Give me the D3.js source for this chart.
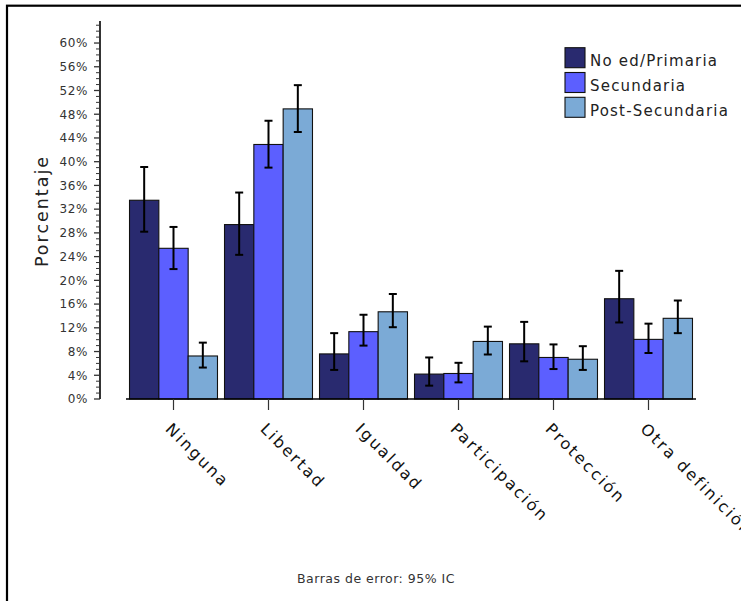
<!DOCTYPE html>
<html>
<head>
<meta charset="utf-8">
<script src="https://cdn.jsdelivr.net/npm/d3@7"></script>
<style>
  body { margin: 0; background: #fff; }
  svg { display: block; font-family: "DejaVu Sans", Verdana, sans-serif; }
</style>
</head>
<body>
<div id="chart"></div>
<script>
// values in percent
const categories = ["Ninguna", "Libertad", "Igualdad", "Participación", "Protección", "Otra definición"];
const seriesNames = ["No ed/Primaria", "Secundaria", "Post-Secundaria"];
const seriesColors = ["#292a6f", "#5c5fff", "#7baad6"];

const noEd   = [33.5, 29.4, 7.6, 4.2, 9.3, 16.9];
const noEdLo = [28.2, 24.3, 4.9, 2.25, 6.35, 12.9];
const noEdHi = [39.1, 34.8, 11.1, 7.0, 13.0, 21.6];

const sec   = [25.4, 42.9, 11.35, 4.3, 7.0, 10.05];
const secLo = [21.9, 39.0, 9.0, 2.8, 5.05, 7.75];
const secHi = [29.0, 46.9, 14.2, 6.1, 9.2, 12.7];

const post   = [7.25, 48.9, 14.7, 9.7, 6.7, 13.6];
const postLo = [5.3, 45.0, 12.1, 7.5, 4.9, 11.1];
const postHi = [9.5, 52.9, 17.7, 12.2, 8.9, 16.6];

const yMajor = d3.range(0, 61, 4);
const yMinor = d3.range(0, 64, 1);

const width = 741, height = 601;

const rows = [];
[[noEd, noEdLo, noEdHi], [sec, secLo, secHi], [post, postLo, postHi]].forEach(([v, lo, hi], s) => {
    categories.forEach((c, i) => {
        rows.push({cat: c, series: seriesNames[s], value: v[i], lo: lo[i], hi: hi[i]});
    });
});

const svg = d3.select("#chart").append("svg")
    .attr("width", width)
    .attr("height", height);

// outer frame, runs off the right and bottom edges
svg.append("rect")
    .attr("x", 7).attr("y", 5.7)
    .attr("width", 900).attr("height", 900)
    .attr("fill", "none")
    .attr("stroke", "#000")
    .attr("stroke-width", 2.2);

const x = d3.scaleBand()
    .domain(categories)
    .range([126, 696])
    .paddingInner(0.074)
    .paddingOuter(0.037);

const xs = d3.scaleBand()
    .domain(seriesNames)
    .range([0, x.bandwidth()]);

const y = d3.scaleLinear()
    .domain([0, 64])
    .range([399, 19.3]);

const color = d3.scaleOrdinal().domain(seriesNames).range(seriesColors);

// bars
svg.append("g")
    .selectAll("rect")
    .data(rows)
    .join("rect")
    .attr("x", d => x(d.cat) + xs(d.series))
    .attr("y", d => y(d.value))
    .attr("width", xs.bandwidth())
    .attr("height", d => y(0) - y(d.value))
    .attr("fill", d => color(d.series))
    .attr("stroke", "#111")
    .attr("stroke-width", 1.1);

// error bars
const err = svg.append("g")
    .attr("stroke", "#000")
    .attr("stroke-width", 2)
    .selectAll("g")
    .data(rows)
    .join("g")
    .attr("transform", d => `translate(${x(d.cat) + xs(d.series) + xs.bandwidth() / 2},0)`);
err.append("line")
    .attr("y1", d => y(d.lo)).attr("y2", d => y(d.hi));
err.append("line")
    .attr("x1", -4).attr("x2", 4)
    .attr("y1", d => y(d.lo)).attr("y2", d => y(d.lo));
err.append("line")
    .attr("x1", -4).attr("x2", 4)
    .attr("y1", d => y(d.hi)).attr("y2", d => y(d.hi));

// y axis
const yAxis = svg.append("g").attr("transform", "translate(100,0)");
yAxis.append("line")
    .attr("y1", y(63.7)).attr("y2", y(0))
    .attr("stroke", "#000").attr("stroke-width", 1.6);
yAxis.selectAll(".minor")
    .data(yMinor.filter(v => v % 4 !== 0))
    .join("line")
    .attr("class", "minor")
    .attr("x1", -4).attr("x2", 0)
    .attr("y1", d => y(d)).attr("y2", d => y(d))
    .attr("stroke", "#333").attr("stroke-width", 1);
yAxis.selectAll(".major")
    .data(yMajor)
    .join("line")
    .attr("class", "major")
    .attr("x1", -6).attr("x2", 0)
    .attr("y1", d => y(d)).attr("y2", d => y(d))
    .attr("stroke", "#333").attr("stroke-width", 1.3);
yAxis.selectAll("text")
    .data(yMajor)
    .join("text")
    .attr("x", -12)
    .attr("y", d => y(d))
    .attr("dy", "0.36em")
    .attr("text-anchor", "end")
    .attr("fill", "#333")
    .style("font-size", "12px")
    .style("letter-spacing", "0.6px")
    .text(d => d + "%");

svg.append("text")
    .attr("transform", "translate(48,211) rotate(-90)")
    .attr("text-anchor", "middle")
    .attr("fill", "#222")
    .style("font-size", "17.5px")
    .style("letter-spacing", "2px")
    .text("Porcentaje");

// x axis
svg.append("line")
    .attr("x1", 126).attr("x2", 696)
    .attr("y1", y(0)).attr("y2", y(0))
    .attr("stroke", "#000").attr("stroke-width", 1.6);
svg.append("g")
    .selectAll("line")
    .data(categories)
    .join("line")
    .attr("x1", d => x(d) + x.bandwidth() / 2)
    .attr("x2", d => x(d) + x.bandwidth() / 2)
    .attr("y1", y(0)).attr("y2", y(0) + 11)
    .attr("stroke", "#333").attr("stroke-width", 1.2);
svg.append("g")
    .selectAll("text")
    .data(categories)
    .join("text")
    .attr("transform", d => `translate(${x(d) + x.bandwidth() / 2 - 9},430) rotate(45)`)
    .attr("fill", "#111")
    .style("font-size", "16px")
    .style("letter-spacing", "2.2px")
    .text(d => d);

// legend
const legend = svg.append("g").attr("transform", "translate(565,47.7)");
const li = legend.selectAll("g")
    .data(seriesNames)
    .join("g")
    .attr("transform", (d, i) => `translate(0,${i * 24.8})`);
li.append("rect")
    .attr("width", 20).attr("height", 20)
    .attr("fill", d => color(d))
    .attr("stroke", "#111").attr("stroke-width", 1.1);
li.append("text")
    .attr("x", 25).attr("y", 18.5)
    .attr("fill", "#222")
    .style("font-size", "15px")
    .style("letter-spacing", "1.2px")
    .text(d => d);

svg.append("text")
    .attr("x", 376).attr("y", 583)
    .attr("text-anchor", "middle")
    .attr("fill", "#333")
    .style("font-size", "12.5px")
    .style("letter-spacing", "0.5px")
    .text("Barras de error: 95% IC");
</script>
</body>
</html>
